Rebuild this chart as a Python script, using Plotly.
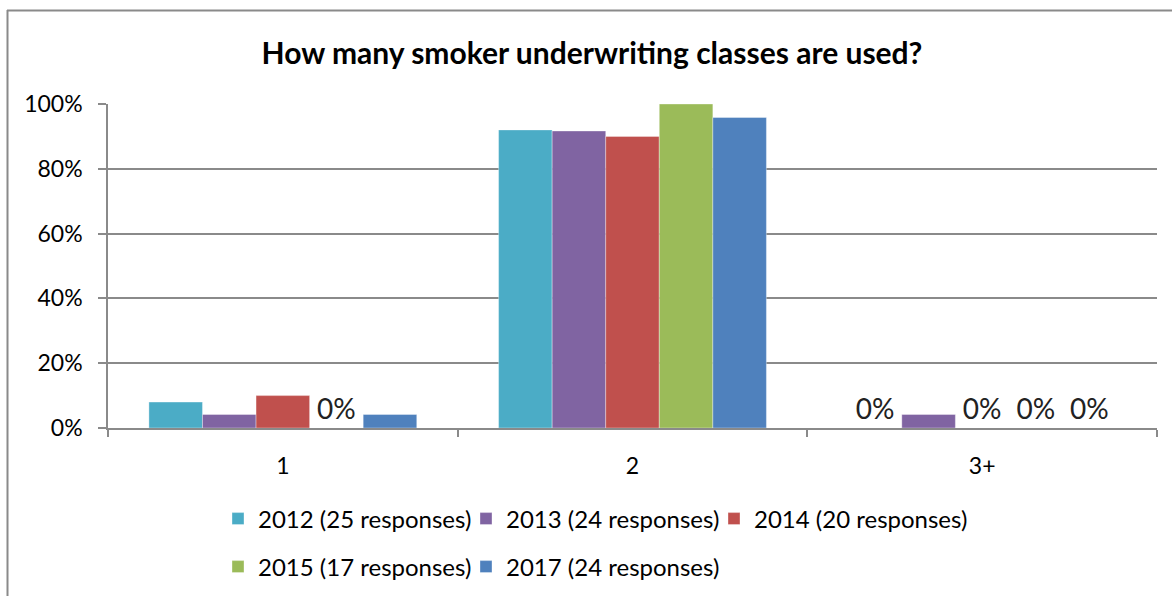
import plotly.graph_objects as go

categories = ["1", "2", "3+"]
series_names = [
    "2012 (25 responses)",
    "2013 (24 responses)",
    "2014 (20 responses)",
    "2015 (17 responses)",
    "2017 (24 responses)",
]
v2012 = [0.08, 0.92, 0.0]
v2013 = [0.0417, 0.9167, 0.0417]
v2014 = [0.10, 0.90, 0.0]
v2015 = [0.0, 1.00, 0.0]
v2017 = [0.0417, 0.9583, 0.0]
y_ticks = [0, 0.2, 0.4, 0.6, 0.8, 1.0]
y_tick_labels = ["0%", "20%", "40%", "60%", "80%", "100%"]

colors = ["#4BACC6", "#8064A2", "#C0504D", "#9BBB59", "#4F81BD"]
values = [v2012, v2013, v2014, v2015, v2017]

W, H = 1172, 596
L, R, T, B = 108, 15, 104, 168
pw, ph = W - L - R, H - T - B


def px(x):
    return (x - L) / pw


def py(y):
    return 1 - (y - T) / ph


FONT = "Lato, Calibri, Arial, sans-serif"

# one legend per entry so the two rows sit like the original
legend_ids = ["legend", "legend2", "legend3", "legend4", "legend5"]
legend_pos = [(233, 519), (481, 519), (729, 519), (233, 567), (481, 567)]

fig = go.Figure()
for name, vals, col, lg in zip(series_names, values, colors, legend_ids):
    fig.add_trace(go.Bar(
        x=categories, y=vals, name=name, legend=lg, showlegend=True,
        marker=dict(color=col, line=dict(color="rgba(255,255,255,0.35)", width=1)),
        text=["0%" if v == 0 else "" for v in vals],
        textposition="outside", cliponaxis=False,
        textfont=dict(family=FONT, size=28, color="#222222"),
    ))

border = dict(color="#8a8a8a", width=2)
fig.add_shape(type="line", xref="paper", yref="paper",
              x0=px(7), x1=px(W + 5), y0=py(10.5), y1=py(10.5), line=border)
fig.add_shape(type="line", xref="paper", yref="paper",
              x0=px(7.5), x1=px(7.5), y0=py(10), y1=py(H + 5), line=border)

legends = {}
for lg, (sx, sy) in zip(legend_ids, legend_pos):
    legends[lg] = dict(orientation="h", x=px(sx - 15), xanchor="left", y=py(sy),
                       yanchor="middle", font=dict(family=FONT, size=24),
                       bgcolor="rgba(0,0,0,0)")

fig.update_layout(
    width=W, height=H,
    showlegend=True,
    margin=dict(l=L, r=R, t=T, b=B, autoexpand=False),
    paper_bgcolor="white", plot_bgcolor="white",
    barmode="group", bargap=0.234, bargroupgap=0,
    font=dict(family=FONT, size=23, color="#000000"),
    title=dict(text="<b>How many smoker underwriting classes are used?</b>",
               x=px(592), xanchor="center", xref="paper", y=1 - 53 / H, yanchor="middle",
               font=dict(family=FONT, size=30, color="#000000")),
    xaxis=dict(showline=True, linecolor="#8a8a8a", linewidth=1.5,
               ticks="outside", tickson="boundaries", ticklen=7,
               tickcolor="#8a8a8a", tickwidth=1.5,
               tickfont=dict(family=FONT, size=23), ticklabelstandoff=17),
    yaxis=dict(range=[0, 1], tickvals=y_ticks, ticktext=y_tick_labels,
               showgrid=True, gridcolor="#8a8a8a", gridwidth=1.5,
               showline=True, linecolor="#8a8a8a", linewidth=1.5,
               ticks="outside", ticklen=8, tickcolor="#8a8a8a", tickwidth=1.5,
               zeroline=False, tickfont=dict(family=FONT, size=23),
               ticklabelstandoff=11),
    **legends,
)

fig.write_html("out.html", config={"displayModeBar": False},
               post_script="document.body.style.margin='0';document.body.style.overflow='hidden';")
